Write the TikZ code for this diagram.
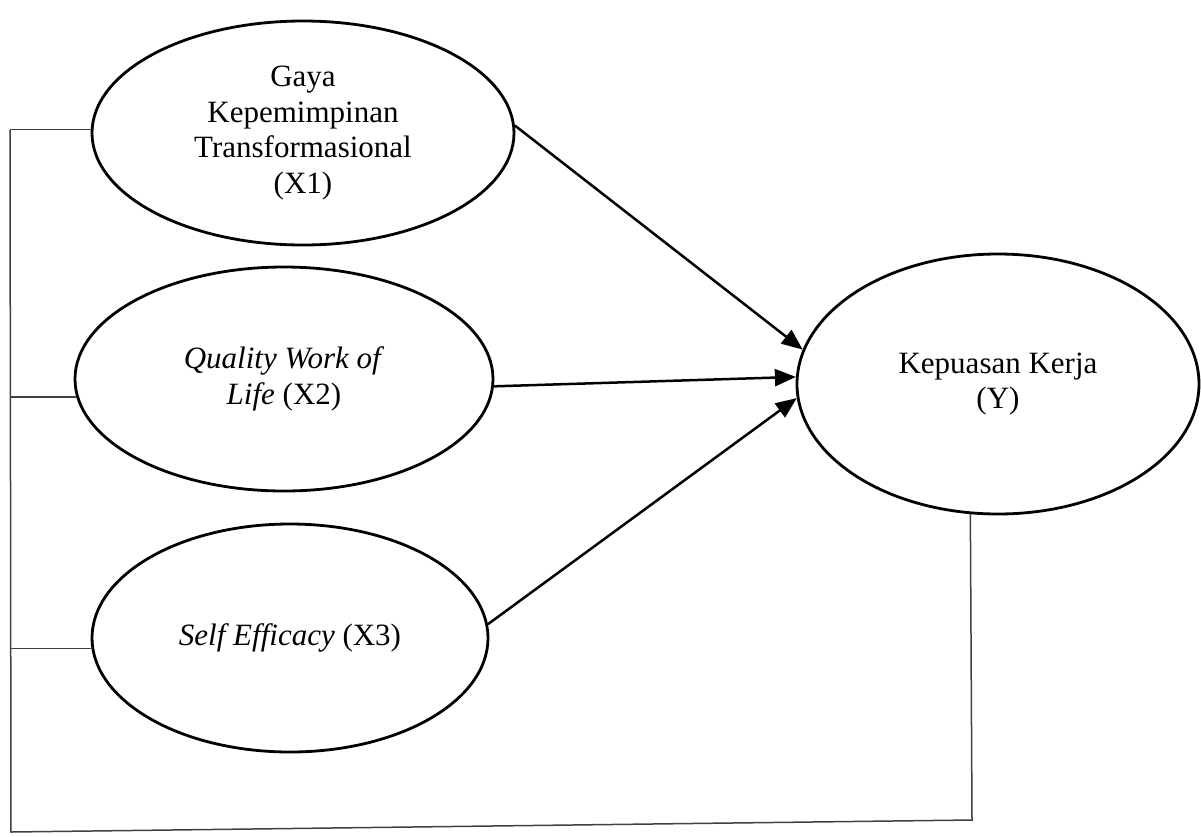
\documentclass[tikz,border=0pt]{standalone}
\usepackage{fontspec}
\setmainfont{Liberation Serif}
\usetikzlibrary{arrows.meta,shapes.geometric}
\begin{document}
\begin{tikzpicture}[x=1pt,y=-1pt,
  var/.style={draw=black, line width=2.8pt, ellipse, inner sep=0pt, align=center,
    font=\fontsize{31}{35.5}\selectfont},
  arr/.style={line width=2.5pt, -{Triangle[length=21pt,width=17pt]}},
  frame/.style={draw=black!75, line width=1.5pt}]
\useasboundingbox (0,0) rectangle (1201,836);
\node[var, minimum width=422pt, minimum height=224pt] (x1) at (303,133)
  {Gaya\\Kepemimpinan\\Transformasional\\(X1)};
\node[var, minimum width=418pt, minimum height=224pt] (x2) at (284,379)
  {\textit{Quality Work of}\\\textit{Life} (X2)};
\node[var, minimum width=396pt, minimum height=228pt] (x3) at (290,638)
  {\textit{Self Efficacy} (X3)};
\node[var, minimum width=402pt, minimum height=260pt] (y) at (998,384)
  {Kepuasan Kerja\\(Y)};
\draw[arr] (x1.2) -- (y.170);
\draw[arr] (x2.-2) -- (y.178);
\draw[arr] (x3.4) -- (y.184);
\coordinate (lt) at (10,130);
\coordinate (lb) at (11,832);
\coordinate (rb) at (972,820);
\draw[frame] (lt) -- (lb) -- (rb) -- (y.258);
\draw[frame] (x1.179) -- (x1.179 -| lt);
\draw[frame] (x2.185) -- (x2.185 -| lt);
\draw[frame] (x3.183.5) -- (x3.183.5 -| lt);
\end{tikzpicture}
\end{document}
